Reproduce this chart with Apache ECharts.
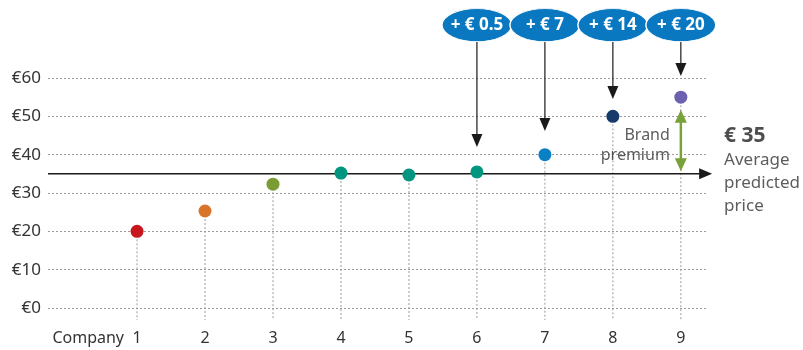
<!DOCTYPE html>
<html>
<head>
<meta charset="utf-8">
<script src="https://cdn.jsdelivr.net/npm/echarts@6/dist/echarts.min.js"></script>
<style>
  html, body { margin: 0; padding: 0; background: #fff; }
  #chart { width: 803px; height: 350px; }
</style>
</head>
<body>
<div id="chart"></div>
<script>
  // companies and predicted prices
  var companies = [1, 2, 3, 4, 5, 6, 7, 8, 9];
  var prices = [20, 25.3, 32.3, 35.2, 34.7, 35.5, 40, 50, 55];
  var dotColors = ['#c8161e', '#d9752a', '#7b9c35', '#00957f', '#00957f', '#00957f', '#0a80c4', '#163b6b', '#6c60b0'];
  var yTicks = [0, 10, 20, 30, 40, 50, 60];

  var average = 35;
  var averageStart = -0.31;
  var averageEnd = 9.46;

  // premium bubbles at the top
  var bubbleCompanies = [6, 7, 8, 9];
  var bubbleLabels = ['+ € 0.5', '+ € 7', '+ € 14', '+ € 20'];
  var bubbleLevel = 73.8;      // height of the bubble row (value units)
  var arrowFrom = 69.4;        // bottom of bubbles
  var arrowTo = [42, 46.2, 54.5, 60.5];

  // brand premium double arrow on company 9
  var premiumFrom = 51.7;
  var premiumTo = 35.7;

  var font = '"Noto Sans", "Open Sans", sans-serif';

  // draw a line from (x1,y1) to (x2,y2) in data space, with arrow heads
  function arrowItem(color, width, headW, headL, both) {
    return function (params, api) {
      var a = api.coord([api.value(0), api.value(1)]);
      var b = api.coord([api.value(2), api.value(3)]);
      var dx = b[0] - a[0], dy = b[1] - a[1];
      var len = Math.sqrt(dx * dx + dy * dy);
      var ux = dx / len, uy = dy / len;
      var px = -uy, py = ux;
      function head(tip, dir) {
        var bx = tip[0] - dir * ux * headL, by = tip[1] - dir * uy * headL;
        return {
          type: 'polygon',
          shape: { points: [tip, [bx + px * headW / 2, by + py * headW / 2], [bx - px * headW / 2, by - py * headW / 2]] },
          style: { fill: color }
        };
      }
      var s = both ? [a[0] + ux * headL * 0.8, a[1] + uy * headL * 0.8] : a;
      var e = [b[0] - ux * headL * 0.8, b[1] - uy * headL * 0.8];
      var children = [{
        type: 'line',
        shape: { x1: s[0], y1: s[1], x2: e[0], y2: e[1] },
        style: { stroke: color, lineWidth: width }
      }, head(b, 1)];
      if (both) children.push(head(a, -1));
      return { type: 'group', children: children };
    };
  }

  var myChart = echarts.init(document.getElementById('chart'));

  var option = {
    backgroundColor: '#fff',
    animation: false,
    textStyle: { fontFamily: font },
    grid: { left: 48, right: 97, top: 78, bottom: 42 },
    xAxis: {
      type: 'value',
      min: -0.31,
      max: 9.37,
      splitLine: { show: false },
      axisLine: { show: false },
      axisTick: { show: false },
      axisLabel: {
        customValues: companies,
        color: '#333',
        fontSize: 16,
        margin: 22,
        fontFamily: font
      },
      name: 'Company',
      nameLocation: 'start',
      nameGap: -76,
      nameTextStyle: {
        color: '#333',
        fontSize: 16,
        fontFamily: font,
        align: 'right',
        verticalAlign: 'top',
        padding: [22, 0, 0, 0]
      }
    },
    yAxis: {
      type: 'value',
      min: 0,
      max: 60,
      interval: 10,
      axisLine: { show: false },
      axisTick: { show: false },
      axisLabel: {
        customValues: yTicks,
        formatter: '€{value}',
        color: '#333',
        fontSize: 17,
        margin: 7,
        fontFamily: font
      },
      splitLine: {
        show: true,
        lineStyle: { color: '#9a9a9a', width: 1, type: [2, 2] }
      }
    },
    series: [
      {
        // dotted drop lines from each dot down below the axis
        type: 'custom',
        clip: false,
        silent: true,
        z: 1,
        data: companies.map(function (c, i) { return [c, prices[i]]; }),
        renderItem: function (params, api) {
          var top = api.coord([api.value(0), api.value(1)]);
          var bottom = api.coord([api.value(0), -3.1]);
          return {
            type: 'line',
            shape: { x1: top[0], y1: top[1], x2: bottom[0], y2: bottom[1] },
            style: { stroke: '#9a9a9a', lineWidth: 1, lineDash: [2, 2] }
          };
        }
      },
      {
        // average line with arrow
        type: 'custom',
        clip: false,
        silent: true,
        z: 2,
        data: [[averageStart, average, averageEnd, average]],
        renderItem: arrowItem('#1a1a1a', 1.5, 11, 13, false)
      },
      {
        // average label
        type: 'scatter',
        symbolSize: 0,
        clip: false,
        silent: true,
        z: 3,
        data: [[averageEnd, average]],
        label: {
          show: true,
          position: 'right',
          distance: 12,
          formatter: '{b|€ 35}\n{n|Average}\n{n|predicted}\n{n|price}',
          padding: [0, 0, 6, 0],
          rich: {
            b: { fontSize: 21, fontWeight: 'bold', color: '#222', lineHeight: 25, fontFamily: font },
            n: { fontSize: 17, color: '#333', lineHeight: 23, fontFamily: font }
          }
        }
      },
      {
        // arrows from bubbles down to dots
        type: 'custom',
        clip: false,
        silent: true,
        z: 2,
        data: bubbleCompanies.map(function (c, i) { return [c, arrowFrom, c, arrowTo[i]]; }),
        renderItem: arrowItem('#1a1a1a', 1.2, 11, 13, false)
      },
      {
        // brand premium double arrow
        type: 'custom',
        clip: false,
        silent: true,
        z: 2,
        data: [[9, premiumFrom, 9, premiumTo]],
        renderItem: arrowItem('#79a13a', 2.5, 12, 13, true)
      },
      {
        // brand premium text
        type: 'scatter',
        symbolSize: 0,
        clip: false,
        silent: true,
        z: 3,
        data: [[9, 42.5]],
        label: {
          show: true,
          position: 'left',
          distance: 11,
          align: 'right',
          formatter: 'Brand\npremium',
          color: '#333',
          fontSize: 16,
          lineHeight: 20,
          fontFamily: font
        }
      },
      {
        // company dots
        type: 'scatter',
        symbolSize: 13,
        z: 4,
        data: companies.map(function (c, i) {
          return { value: [c, prices[i]], itemStyle: { color: dotColors[i], opacity: 1 } };
        })
      },
      {
        // premium bubbles
        type: 'scatter',
        symbol: 'circle',
        symbolSize: [70, 33],
        clip: false,
        silent: true,
        z: 5,
        itemStyle: { color: '#0a78c0', borderColor: '#fff', borderWidth: 1, opacity: 1 },
        label: {
          show: true,
          position: 'inside',
          color: '#fff',
          fontWeight: 'bold',
          fontSize: 17,
          fontFamily: font,
          formatter: function (p) { return bubbleLabels[p.dataIndex]; }
        },
        data: bubbleCompanies.map(function (c) { return [c, bubbleLevel]; })
      }
    ]
  };

  myChart.setOption(option);
</script>
</body>
</html>
